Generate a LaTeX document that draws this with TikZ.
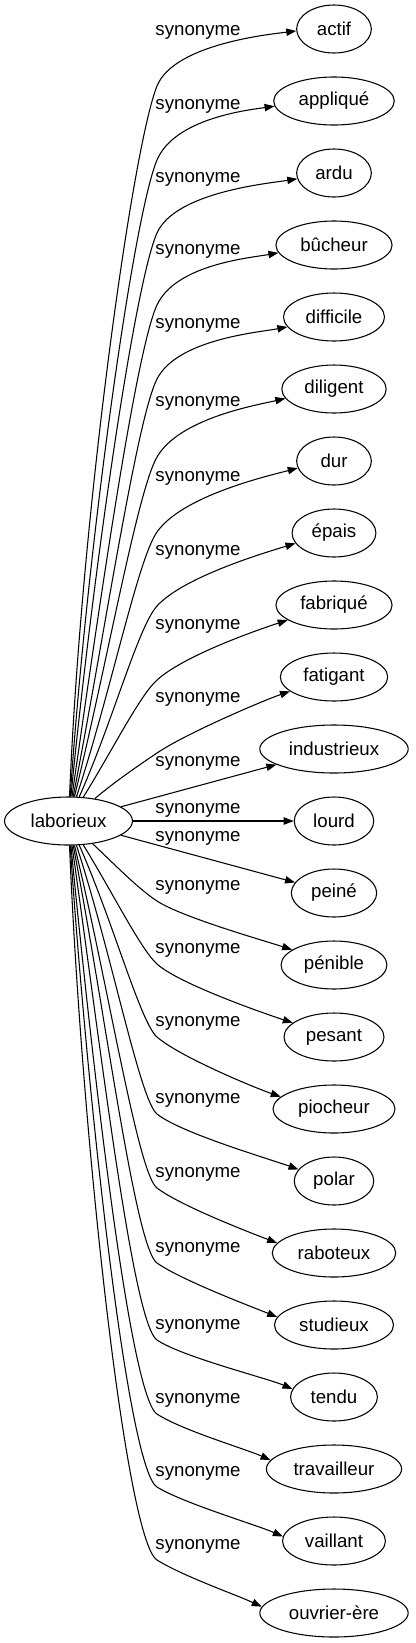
\documentclass[tikz,border=0pt]{standalone}
\usepackage{fontspec}
\setmainfont{Liberation Sans}
\usetikzlibrary{shapes.geometric,arrows.meta}
\begin{document}
\begin{tikzpicture}[x=0.75pt,y=-0.75pt,
    word/.style={draw,ellipse,line width=0.8pt,minimum width=56pt,minimum height=36pt,inner xsep=5.5pt,font=\fontsize{14pt}{16pt}\selectfont},
    syn/.style={inner sep=0pt,font=\fontsize{14pt}{16pt}\selectfont},
    link/.style={line width=0.8pt,-{Triangle[length=7.5pt,width=5.5pt]}}]
    \useasboundingbox (0,0) rectangle (416,1643);
    % the word and its synonyms
    \node[word] (lab) at (68.5,821) {laborieux};
    \node[word] (actif) at (334,29) {actif};
    \node[word] (applique) at (334,101) {appliqué};
    \node[word] (ardu) at (334,173) {ardu};
    \node[word] (bucheur) at (334,245) {bûcheur};
    \node[word] (difficile) at (334,317) {difficile};
    \node[word] (diligent) at (334,389) {diligent};
    \node[word] (dur) at (334,461) {dur};
    \node[word] (epais) at (334,533) {épais};
    \node[word] (fabrique) at (334,605) {fabriqué};
    \node[word] (fatigant) at (334,677) {fatigant};
    \node[word] (industrieux) at (334,749) {industrieux};
    \node[word] (lourd) at (334,821) {lourd};
    \node[word] (peine) at (334,893) {peiné};
    \node[word] (penible) at (334,965) {pénible};
    \node[word] (pesant) at (334,1037) {pesant};
    \node[word] (piocheur) at (334,1109) {piocheur};
    \node[word] (polar) at (334,1181) {polar};
    \node[word] (raboteux) at (334,1253) {raboteux};
    \node[word] (studieux) at (334,1325) {studieux};
    \node[word] (tendu) at (334,1397) {tendu};
    \node[word] (travailleur) at (334,1469) {travailleur};
    \node[word] (vaillant) at (334,1541) {vaillant};
    \node[word] (ouvriere) at (334,1613) {ouvrier-ère};
    % edge labels
    \node[syn] (s1) at (198,32) {synonyme};
    \node[syn] (s2) at (198,106) {synonyme};
    \node[syn] (s3) at (198,179) {synonyme};
    \node[syn] (s4) at (198,251) {synonyme};
    \node[syn] (s5) at (198,325) {synonyme};
    \node[syn] (s6) at (198,403) {synonyme};
    \node[syn] (s7) at (198,478) {synonyme};
    \node[syn] (s8) at (198,552) {synonyme};
    \node[syn] (s9) at (198,626) {synonyme};
    \node[syn] (s10) at (198,699) {synonyme};
    \node[syn] (s11) at (198,763) {synonyme};
    \node[syn] (s12) at (198,810) {synonyme};
    \node[syn] (s13) at (198,838) {synonyme};
    \node[syn] (s14) at (198,887) {synonyme};
    \node[syn] (s15) at (198,950) {synonyme};
    \node[syn] (s16) at (198,1023) {synonyme};
    \node[syn] (s17) at (198,1100) {synonyme};
    \node[syn] (s18) at (198,1174) {synonyme};
    \node[syn] (s19) at (198,1249) {synonyme};
    \node[syn] (s20) at (198,1326) {synonyme};
    \node[syn] (s21) at (198,1400) {synonyme};
    \node[syn] (s22) at (198,1473) {synonyme};
    \node[syn] (s23) at (198,1546) {synonyme};
    % edges going up
    \draw[link] (lab) .. controls (81.4,512.6) and (132.7,146.1) .. (157,86) .. controls (173.9,44.3) and +(-27.8,3.4) .. (actif.183);
    \draw[link] (lab) .. controls (87.6,542.2) and (133.7,214.9) .. (157,160) .. controls (174.6,118.6) and +(-27.7,3.9) .. (applique.185);
    \draw[link] (lab) .. controls (93,571.4) and (134.8,282.8) .. (157,233) .. controls (175.3,191.9) and +(-27.7,4.4) .. (ardu.189);
    \draw[link] (lab) .. controls (100,600.2) and (136.1,349.8) .. (157,305) .. controls (176,264.2) and +(-27.6,4.9) .. (bucheur.188);
    \draw[link] (lab) .. controls (105.4,629.8) and (136.9,418.5) .. (157,379) .. controls (177.4,338.9) and +(-27.5,5.3) .. (difficile.192);
    \draw[link] (lab) .. controls (107.6,661) and (137.6,490.6) .. (157,457) .. controls (179.5,418) and +(-27.3,6.3) .. (diligent.191);
    \draw[link] (lab) .. controls (111.2,691) and (137.7,559.5) .. (157,532) .. controls (182.8,495.1) and +(-27,7.2) .. (dur.191);
    \draw[link] (lab) .. controls (113.1,720.6) and (138,627.1) .. (157,606) .. controls (183.8,576.3) and +(-26.8,8.2) .. (epais.195);
    \draw[link] (lab) .. controls (112.4,750.2) and (139.8,695.5) .. (157,680) .. controls (185.2,654.6) and +(-26.6,8.7) .. (fabrique.198);
    \draw[link] (lab) .. controls (114.8,781.6) and (140.4,764.2) .. (157,753) .. controls (186,733.4) and +(-26.5,9.1) .. (fatigant.198);
    % straight ones
    \draw[link] (lab) -- (industrieux);
    \draw[link] (lab) -- (lourd);
    \draw[link] (lab) -- (peine);
    % edges going down
    \draw[link] (lab) .. controls (114.8,864.6) and (138.5,889) .. (157,901) .. controls (182.2,917.4) and +(-26.6,-8.7) .. (penible.160);
    \draw[link] (lab) .. controls (112.7,892.6) and (140.7,949.3) .. (157,964) .. controls (179.3,984.1) and +(-26.6,-8.7) .. (pesant.161);
    \draw[link] (lab) .. controls (113.2,921.8) and (140.4,1022.6) .. (157,1037) .. controls (179.7,1056.7) and +(-26.5,-9.1) .. (piocheur.167);
    \draw[link] (lab) .. controls (111.5,952.6) and (139.9,1100.2) .. (157,1114) .. controls (180.3,1132.9) and +(-26.3,-9.6) .. (polar.162);
    \draw[link] (lab) .. controls (107.8,982.2) and (137.8,1173.6) .. (157,1188) .. controls (181,1206.1) and +(-26.1,-10) .. (raboteux.170);
    \draw[link] (lab) .. controls (105.4,1012.2) and (135.2,1247.7) .. (157,1263) .. controls (181.6,1280.2) and +(-26,-10.5) .. (studieux.172);
    \draw[link] (lab) .. controls (100.2,1043) and (132.7,1323.6) .. (157,1340) .. controls (181.9,1356.8) and +(-25.8,-10.9) .. (tendu.169);
    \draw[link] (lab) .. controls (93.1,1072.6) and (130.2,1396.6) .. (157,1414) .. controls (182.2,1430.4) and +(-25.6,-11.4) .. (travailleur.172);
    \draw[link] (lab) .. controls (87.7,1101.8) and (127.7,1468.7) .. (157,1487) .. controls (182.4,1502.9) and +(-25.6,-11.4) .. (vaillant.175);
    \draw[link] (lab) .. controls (81.4,1131) and (125.6,1540.4) .. (157,1560) .. controls (182.4,1575.9) and +(-25.4,-11.8) .. (ouvriere.175);
\end{tikzpicture}
\end{document}
